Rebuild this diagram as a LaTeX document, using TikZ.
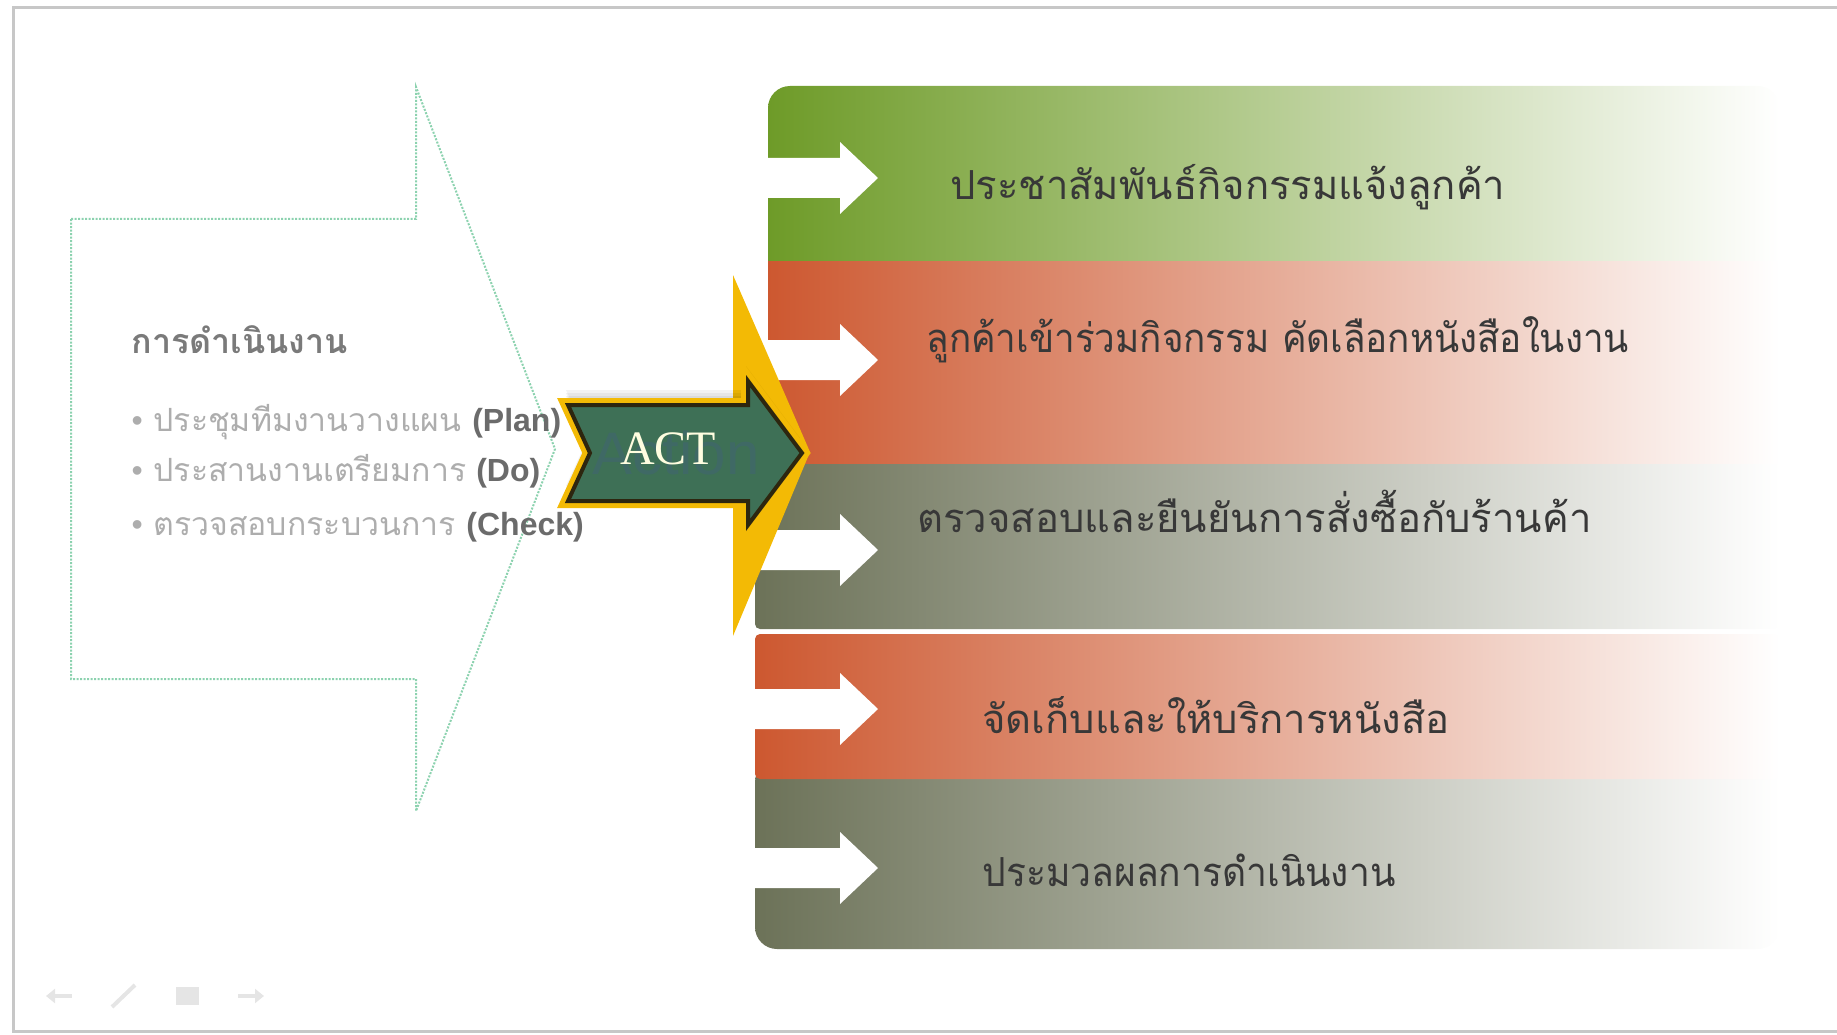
\documentclass[tikz,border=0pt]{standalone}
\usepackage{fontspec}
\usetikzlibrary{arrows.meta}
\newfontfamily\thaifont[Script=Thai]{Loma}
\newfontfamily\engfont{Liberation Sans}
\newfontfamily\actfont{Liberation Serif}
\definecolor{bandgreen}{RGB}{110,155,40}
\definecolor{bandred}{RGB}{205,88,48}
\definecolor{bandgray}{RGB}{108,114,88}
\definecolor{actgreen}{RGB}{62,112,86}
\definecolor{actgold}{RGB}{243,186,5}
\definecolor{actedge}{RGB}{45,38,15}
\definecolor{mint}{RGB}{140,210,175}
\begin{document}
\begin{tikzpicture}[x=1pt,y=-1pt,
    bandtext/.style={anchor=west,text=black!78,font=\thaifont\fontsize{40}{48}\selectfont},
    lefttext/.style={anchor=west,text=black!32,font=\thaifont\fontsize{32}{36}\selectfont},
    actshape/.style={insert path={(568,405) -- (748,405) -- (748,381) -- (802,453)
        -- (748,525) -- (748,501) -- (568,501) -- (590,453) -- cycle}}]
  \useasboundingbox (0,0) rectangle (1837,1035);

  % slide frame
  \draw[black!22,line width=3pt] (1845,8) -- (13,8) -- (13,1031) -- (1845,1031);

  % dotted outline arrow
  \draw[mint,line width=2pt,dash pattern=on 2pt off 1.5pt]
    (71,219) -- (416,219) -- (416,87) -- (555,449) -- (416,811) -- (416,679) -- (71,679) -- cycle;

  \node[lefttext,text=black!52,font=\thaifont\bfseries\fontsize{34}{38}\selectfont] (head) at (128,340) {การดำเนินงาน};
  \node[lefttext] (plan) at (128,422) {{\engfont •} ประชุมทีมงานวางแผน {\engfont\bfseries\color{black!58}(Plan)}};
  \node[lefttext] (do) at (128,471) {{\engfont •} ประสานงานเตรียมการ\hspace{10pt}{\engfont\bfseries\color{black!58}(Do)}};
  \node[lefttext] (check) at (128,527) {{\engfont •} ตรวจสอบกระบวนการ {\engfont\bfseries\color{black!58}(Check)}};

  % bands
  \shade[left color=bandgreen,middle color=bandgreen!38!white,right color=white,rounded corners=22pt]
    (768,86) rectangle (1780,290);
  \shade[left color=bandred,middle color=bandred!38!white,right color=white]
    (768,262) rectangle (1780,464);
  \shade[left color=bandgray,middle color=bandgray!38!white,right color=white,rounded corners=22pt]
    (755,760) rectangle (1780,949);
  \shade[left color=bandred,middle color=bandred!38!white,right color=white,rounded corners=5pt]
    (755,634) rectangle (1780,779);
  \shade[left color=bandgray,middle color=bandgray!38!white,right color=white,rounded corners=5pt]
    (755,464) rectangle (1780,629);

  \foreach \y in {178,360,550,709,868}
    \fill[white] (745,{\y-20}) -- (840,{\y-20}) -- (840,{\y-36}) -- (878,\y)
      -- (840,{\y+36}) -- (840,{\y+20}) -- (745,{\y+20}) -- cycle;

  \node[bandtext] (t1) at (947,187) {ประชาสัมพันธ์กิจกรรมแจ้งลูกค้า};
  \node[bandtext] (t2) at (923,340) {\scalebox{0.92}[1]{ลูกค้าเข้าร่วมกิจกรรม คัดเลือกหนังสือในงาน}};
  \node[bandtext] (t3) at (914,511) {ตรวจสอบและยืนยันการสั่งซื้อกับร้านค้า};
  \node[bandtext] (t4) at (979,715) {จัดเก็บและให้บริการหนังสือ};
  \node[bandtext] (t5) at (979,870) {\scalebox{0.93}[1]{ประมวลผลการดำเนินงาน}};

  % ACT arrow
  \fill[actgold] (733,275) -- (810,452) -- (733,636) -- cycle;
  \foreach \s in {3,6,9,12,15}
    \fill[black,opacity=0.05,shift={(-2,-\s)}] [actshape];
  \draw[actgold,line width=14pt] [actshape];
  \filldraw[fill=actgreen,draw=actedge,line width=4pt] [actshape];
  \node[font=\engfont\fontsize{60}{60}\selectfont,text=blue!45!gray,opacity=0.16] (ghost) at (676,453) {Action};
  \node[font=\actfont\fontsize{48}{48}\selectfont,text=yellow!12!white] (act) at (668,449) {ACT};

  % faint slide controls
  \draw[black!10,line width=4pt,-{Triangle[length=9pt,width=14pt]}] (72,996) -- (46,996);
  \draw[black!10,line width=4pt] (112,1007) -- (135,985);
  \fill[black!10] (176,987) rectangle (199,1005);
  \draw[black!10,line width=4pt,-{Triangle[length=9pt,width=14pt]}] (238,996) -- (264,996);
\end{tikzpicture}
\end{document}
